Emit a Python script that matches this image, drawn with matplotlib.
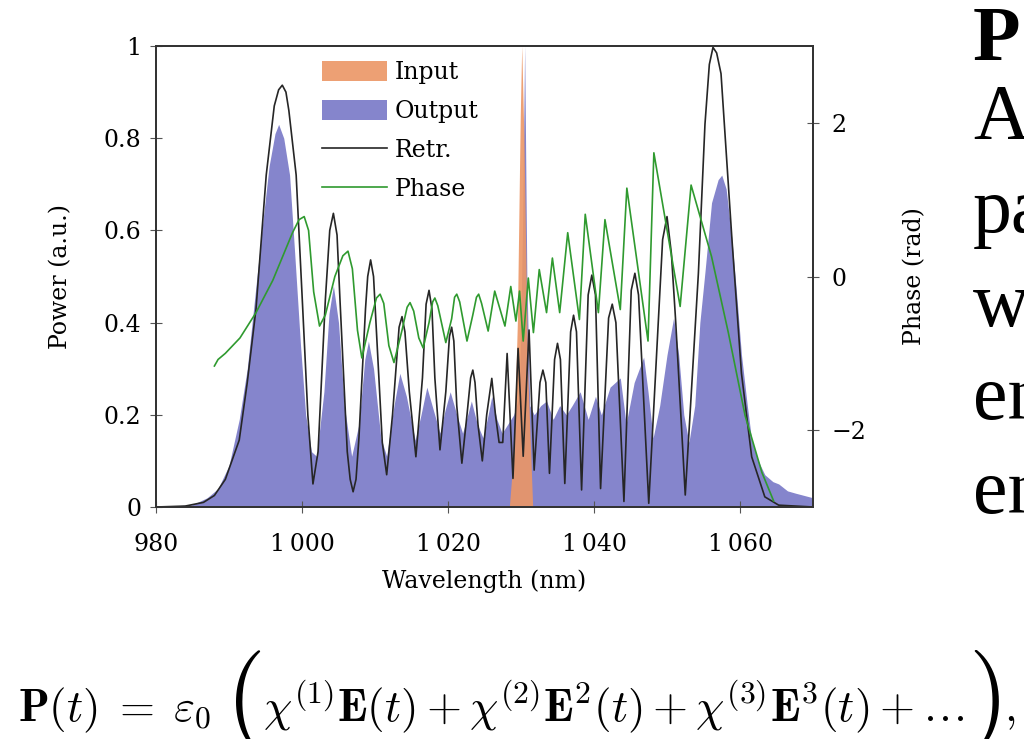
import numpy as np
import matplotlib
matplotlib.use("Agg")
import matplotlib.pyplot as plt
from matplotlib.patches import Patch
from matplotlib.lines import Line2D

plt.rcParams["font.family"] = ["DejaVu Serif"]
plt.rcParams["mathtext.fontset"] = "cm"

# measured output spectrum (filled)
out_wl = [980, 985, 987, 988.5, 990, 991.4, 992.5, 993.5, 994.5, 995.5, 996.3, 996.8, 997.5,
          998.3, 999.0, 999.8, 1000.5, 1001.3, 1002.0, 1003.0, 1003.7, 1004.3, 1005.0, 1005.8,
          1006.8, 1007.8, 1008.6, 1009.1, 1009.8, 1010.8, 1011.6, 1012.6, 1013.4, 1014.3, 1015.5,
          1016.3, 1017.1, 1018.0, 1018.9, 1019.6, 1020.3, 1021.2, 1022.0, 1022.7, 1023.2, 1024.0,
          1024.8, 1025.5, 1026.0, 1026.7, 1027.4, 1028.2, 1029.0, 1029.8, 1030.2, 1030.5, 1030.8,
          1031.2, 1031.8, 1032.7, 1033.5, 1034.4, 1035.3, 1036.2, 1037.0, 1038.1, 1039.2, 1040.2,
          1041.0, 1042.2, 1043.6, 1044.4, 1045.5, 1046.8, 1047.4, 1048.1, 1049.0, 1050.0, 1050.9,
          1051.6, 1052.3, 1053.0, 1053.8, 1054.5, 1055.2, 1056.1, 1057.0, 1057.5, 1058.1, 1058.9,
          1059.6, 1060.2, 1061.0, 1061.6, 1062.5, 1063.4, 1064.5, 1065.3, 1066.5, 1067.6, 1068.8, 1070]
out_pw = [0, 0.005, 0.02, 0.04, 0.09, 0.19, 0.30, 0.45, 0.60, 0.74, 0.81, 0.83, 0.80,
          0.72, 0.55, 0.35, 0.20, 0.12, 0.11, 0.25, 0.42, 0.48, 0.40, 0.22,
          0.11, 0.18, 0.32, 0.36, 0.30, 0.15, 0.11, 0.22, 0.29, 0.24, 0.145,
          0.20, 0.26, 0.21, 0.16, 0.21, 0.25, 0.20, 0.16, 0.20, 0.23, 0.18,
          0.15, 0.20, 0.24, 0.19, 0.16, 0.18, 0.20, 0.24, 0.60, 1.0, 0.50,
          0.22, 0.20, 0.22, 0.23, 0.19, 0.22, 0.20, 0.22, 0.25, 0.19, 0.24,
          0.20, 0.26, 0.28, 0.18, 0.27, 0.325, 0.25, 0.15, 0.22, 0.33, 0.41,
          0.33, 0.20, 0.14, 0.22, 0.40, 0.51, 0.66, 0.71, 0.72, 0.69, 0.58,
          0.45, 0.33, 0.22, 0.145, 0.10, 0.07, 0.055, 0.05, 0.035, 0.03, 0.025, 0.02]

# input pulse
in_wl = [1028.4, 1029.0, 1029.5, 1029.9, 1030.1, 1030.4, 1030.9, 1031.6]
in_pw = [0, 0.12, 0.40, 0.85, 1.0, 0.80, 0.30, 0]

# retrieved spectrum
retr_wl = [980, 984, 986.5, 988, 989.5, 991.4, 992.5, 993.7, 995.1, 996.2, 996.8, 997.3, 997.8,
           998.2, 999.2, 1000.1, 1000.8, 1001.5, 1002.2, 1003.2, 1003.8, 1004.3, 1004.8, 1005.2,
           1006.2, 1006.6, 1007.0, 1007.4, 1007.8, 1008.7, 1009.0, 1009.4, 1009.8, 1010.3, 1011.0,
           1011.6, 1012.4, 1013.3, 1013.7, 1014.1, 1014.7, 1015.6, 1016.5, 1017.0, 1017.4, 1017.8,
           1018.2, 1018.9, 1019.7, 1020.2, 1020.5, 1020.8, 1021.2, 1021.9, 1022.6, 1023.1, 1023.4,
           1023.7, 1024.1, 1024.7, 1025.3, 1026.0, 1026.5, 1027.0, 1027.5, 1028.1, 1028.9, 1029.6,
           1030.3, 1031.1, 1031.8, 1032.6, 1033.0, 1033.4, 1033.9, 1034.6, 1035.0, 1035.4, 1036.0,
           1036.8, 1037.2, 1037.6, 1038.3, 1039.2, 1039.7, 1040.2, 1040.9, 1042.0, 1042.5, 1043.0,
           1044.1, 1045.1, 1045.6, 1046.1, 1047.5, 1049.4, 1050.0, 1050.6, 1051.2, 1052.5, 1054.3,
           1055.2, 1055.8, 1056.3, 1056.8, 1057.4, 1058.9, 1060.2, 1061.6, 1063.4, 1065.3, 1070]
retr_pw = [0, 0.002, 0.01, 0.025, 0.06, 0.145, 0.27, 0.43, 0.72, 0.87, 0.905, 0.915, 0.90,
           0.86, 0.72, 0.43, 0.20, 0.05, 0.12, 0.45, 0.60, 0.637, 0.59, 0.45,
           0.12, 0.06, 0.033, 0.06, 0.15, 0.43, 0.50, 0.536, 0.50, 0.35, 0.14,
           0.07, 0.20, 0.39, 0.413, 0.38, 0.25, 0.109, 0.28, 0.44, 0.47, 0.43,
           0.28, 0.124, 0.25, 0.37, 0.39, 0.36, 0.22, 0.095, 0.20, 0.28, 0.297,
           0.27, 0.18, 0.10, 0.20, 0.279, 0.20, 0.14, 0.14, 0.333, 0.062, 0.344,
           0.11, 0.384, 0.08, 0.27, 0.297, 0.27, 0.073, 0.32, 0.355, 0.32, 0.051,
           0.38, 0.416, 0.38, 0.037, 0.46, 0.503, 0.46, 0.04, 0.41, 0.44, 0.40,
           0.012, 0.47, 0.507, 0.46, 0.008, 0.58, 0.63, 0.55, 0.40, 0.026, 0.507,
           0.83, 0.96, 0.997, 0.985, 0.94, 0.58, 0.29, 0.109, 0.022, 0.004, 0]

# retrieved spectral phase (rad)
ph_wl = [988.0, 988.5, 989.5, 991.5, 993.7, 996.0, 998.7, 999.6, 1000.3, 1000.9, 1001.6, 1002.4,
         1003.2, 1004.5, 1005.6, 1006.3, 1006.9, 1007.6, 1008.2, 1009.3, 1010.2, 1010.7, 1011.2,
         1011.9, 1012.6, 1013.7, 1014.4, 1014.8, 1015.3, 1016.0, 1016.6, 1017.4, 1017.9, 1018.2,
         1018.6, 1019.7, 1020.5, 1020.9, 1021.2, 1021.6, 1022.6, 1023.4, 1023.9, 1024.2, 1024.6,
         1025.5, 1026.4, 1027.8, 1028.6, 1029.3, 1029.8, 1030.3, 1031.0, 1031.7, 1032.5, 1033.5,
         1034.3, 1035.3, 1036.4, 1038.0, 1038.8, 1040.6, 1041.5, 1043.6, 1044.5, 1047.4, 1048.2,
         1051.8, 1053.3, 1056.1, 1058.4, 1060.7, 1063.0, 1064.6]
ph_val = [-1.165, -1.08, -1.0, -0.8, -0.47, -0.05, 0.57, 0.74, 0.78, 0.6, -0.2, -0.645,
          -0.5, 0.0, 0.27, 0.33, 0.1, -0.7, -1.06, -0.6, -0.28, -0.23, -0.35,
          -0.9, -1.12, -0.7, -0.4, -0.34, -0.45, -0.8, -0.93, -0.6, -0.33, -0.28,
          -0.38, -0.86, -0.55, -0.27, -0.23, -0.33, -0.84, -0.5, -0.27, -0.23, -0.35,
          -0.71, -0.19, -0.645, -0.13, -0.58, -0.19, -0.84, -0.02, -0.73, 0.09, -0.47,
          0.24, -0.47, 0.57, -0.56, 0.81, -0.47, 0.74, -0.43, 1.15, -0.84, 1.61,
          -0.39, 1.19, 0.26, -0.73, -1.81, -2.55, -2.92]

x_ticks = [980, 1000, 1020, 1040, 1060]
x_labels = ["980", "1\u2009000", "1\u2009020", "1\u2009040", "1\u2009060"]
y_ticks = [0, 0.2, 0.4, 0.6, 0.8, 1]
y_labels = ["0", "0.2", "0.4", "0.6", "0.8", "1"]
ph_ticks = [-2, 0, 2]
ph_labels = ["\u22122", "0", "2"]

c_out = "#8585cc"
c_in = "#ec9665"
c_retr = "#262626"
c_ph = "#2f9a2f"
fs = 17

fig = plt.figure(figsize=(10.24, 7.39), dpi=100)
ax = fig.add_axes([156 / 1024, 1 - 507 / 739, 657 / 1024, 461 / 739])
ax2 = ax.twinx()

ax.fill_between(out_wl, out_pw, color=c_out, lw=0, zorder=1)
ax.fill_between(in_wl, in_pw, color=c_in, alpha=0.9, lw=0, zorder=2)
ax.plot(retr_wl, retr_pw, color=c_retr, lw=1.2, zorder=3)
ax2.plot(ph_wl, ph_val, color=c_ph, lw=1.2)

ax.set_xlim(980, 1070)
ax.set_ylim(0, 1)
ax2.set_ylim(-3, 3)

ax.set_xticks(x_ticks, x_labels)
ax.set_yticks(y_ticks, y_labels)
ax2.set_yticks(ph_ticks, ph_labels)
for a in (ax, ax2):
    a.tick_params(direction="inout", length=9, width=0.8, color="#555555",
                  labelsize=fs, pad=6)
    for s in a.spines.values():
        s.set_linewidth(1.3)
        s.set_color("#333333")
ax.tick_params(axis="x", pad=14)
ax2.tick_params(axis="y", pad=9)

ax.set_xlabel("Wavelength (nm)", fontsize=fs, labelpad=10)
ax.set_ylabel("Power (a.u.)", fontsize=fs, labelpad=23)
ax2.set_ylabel("Phase (rad)", fontsize=fs, labelpad=26)

handles = [Patch(color=c_in, alpha=0.9, lw=0), Patch(color=c_out, lw=0),
           Line2D([], [], color=c_retr, lw=1.2), Line2D([], [], color=c_ph, lw=1.2)]
ax2.legend(handles, ["Input", "Output", "Retr.", "Phase"], loc="upper left",
           bbox_to_anchor=(0.253, 0.968), frameon=False, fontsize=fs,
           borderpad=0, borderaxespad=0, handlelength=2.75, handleheight=0.95,
           labelspacing=0.66, handletextpad=0.32)

# slide text on the right, cut by the frame edge
ys = [60, 138, 232, 326, 419, 513]
words = ["P", "A", "pa", "w", "en", "en"]
for y, w in zip(ys, words):
    fig.text(973 / 1024, 1 - y / 739, w, fontsize=56, family="Liberation Serif",
             fontweight="bold" if w == "P" else "normal", va="baseline")

# equation at the bottom, with tall brackets placed piece by piece
renderer = fig.canvas.get_renderer()
eq_size = 32.5
par_size = 74
base = 721
par_base = 727


def put(x, s, size, y):
    t = fig.text(x / 1024, 1 - y / 739, s, fontsize=size, va="baseline")
    return t.get_window_extent(renderer).x1


x = put(18, r"$\mathbf{P}(t)\;=\;\varepsilon_0$", eq_size, base) + 14
x = put(x, r"$($", par_size, par_base) + 2
x = put(x, r"$\chi^{(1)}\mathbf{E}(t) + \chi^{(2)}\mathbf{E}^2(t) + \chi^{(3)}\mathbf{E}^3(t) + \ldots$",
        eq_size, base) + 4
x = put(x, r"$)$", par_size, par_base) + 4
put(x, r"$,$", eq_size, base)

fig.savefig("out.png", dpi=100)
